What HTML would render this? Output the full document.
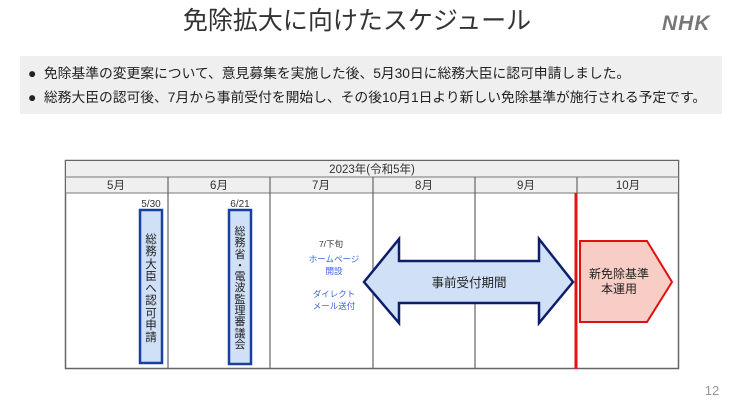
<!DOCTYPE html>
<html><head><meta charset="utf-8"><style>
body{margin:0;width:750px;height:420px;background:#fff;overflow:hidden;position:relative;font-family:"Liberation Sans","Noto Sans CJK JP",sans-serif;color:#222}
.a{position:absolute}
</style></head><body>
<div class="a" style="left:0;width:714px;top:1px;text-align:center;font-size:25px;color:#333">免除拡大に向けたスケジュール</div>
<div class="a" style="left:662px;top:12px;font-size:21px;font-weight:bold;font-style:italic;color:#777;letter-spacing:1px">NHK</div>
<div class="a" style="left:20px;top:56px;width:702px;height:58px;background:#efefef"></div>
<div class="a" style="left:28px;top:62px;font-size:13.8px;line-height:24px;white-space:nowrap;letter-spacing:-0.03px">
<div>●&nbsp; 免除基準の変更案について、意見募集を実施した後、5月30日に総務大臣に認可申請しました。</div>
<div>●&nbsp; 総務大臣の認可後、7月から事前受付を開始し、その後10月1日より新しい免除基準が施行される予定です。</div>
</div>
<svg class="a" style="left:0;top:0" width="750" height="420">
<rect x="65.5" y="160.5" width="613" height="208" fill="#fff" stroke="#666" stroke-width="1.5"/>
<rect x="66" y="161" width="612" height="32" fill="#efefef"/>
<line x1="65" y1="177" x2="679" y2="177" stroke="#777"/>
<line x1="65" y1="193" x2="679" y2="193" stroke="#777"/>
<g stroke="#666" stroke-width="1.2">
<line x1="168" y1="177" x2="168" y2="369"/><line x1="270" y1="177" x2="270" y2="369"/>
<line x1="373" y1="177" x2="373" y2="369"/><line x1="475" y1="177" x2="475" y2="369"/>
<line x1="577" y1="177" x2="577" y2="193"/></g>
<g font-size="11.5" fill="#333" text-anchor="middle">
<text x="372" y="173">2023年(令和5年)</text>
<text x="116" y="189">5月</text><text x="219" y="189">6月</text><text x="321" y="189">7月</text>
<text x="424" y="189">8月</text><text x="526" y="189">9月</text><text x="628" y="189">10月</text>
<text x="151" y="207" font-size="10">5/30</text>
<text x="240" y="207" font-size="10">6/21</text>
</g>
<rect x="140" y="210" width="22" height="153" fill="#cfe0f7" stroke="#1840a0" stroke-width="2.5"/>
<rect x="229" y="210" width="22" height="154" fill="#cfe0f7" stroke="#1840a0" stroke-width="2.5"/>
<g font-size="8.5" text-anchor="middle" fill="#3b63d8">
<text x="331" y="247" fill="#333">7/下旬</text>
<text x="334" y="262">ホームページ</text><text x="334" y="274">開設</text>
<text x="334" y="297">ダイレクト</text><text x="334" y="309">メール送付</text></g>
<polygon points="364,282 399,239 399,261 539,261 539,239 573,282 539,323 539,303 399,303 399,323" fill="#cfe0f7" stroke="#0d1f6b" stroke-width="2.5"/>
<text x="469" y="287" font-size="12.5" text-anchor="middle" fill="#222">事前受付期間</text>
<line x1="576" y1="193" x2="576" y2="369" stroke="#e81010" stroke-width="3"/>
<polygon points="580,241 647,241 672,282 647,322 580,322" fill="#f8cdc6" stroke="#e01010" stroke-width="2"/>
<text x="619" y="278" font-size="12" text-anchor="middle" fill="#222">新免除基準</text>
<text x="619" y="293" font-size="12" text-anchor="middle" fill="#222">本運用</text>
<text x="712" y="395" font-size="13" fill="#999" text-anchor="middle">12</text>
</svg>
<div class="a" style="left:140px;top:234px;width:22px;font-size:11.5px;line-height:12.3px;text-align:center;color:#222">総<br>務<br>大<br>臣<br>へ<br>認<br>可<br>申<br>請</div>
<div class="a" style="left:229px;top:227px;width:22px;font-size:11px;line-height:11.3px;text-align:center;color:#222">総<br>務<br>省<br>・<br>電<br>波<br>監<br>理<br>審<br>議<br>会</div>
</body></html>
